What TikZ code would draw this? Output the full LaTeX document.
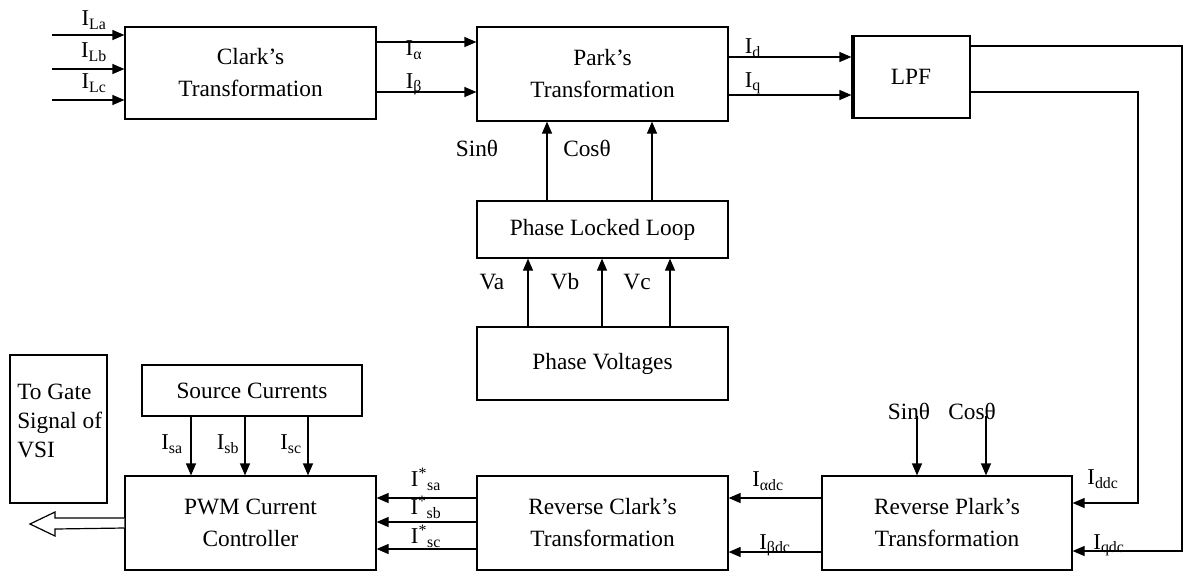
\documentclass[tikz,border=0pt]{standalone}
\usepackage{fontspec}
\setmainfont{Liberation Serif}
\usetikzlibrary{arrows.meta,calc}
\newcommand\Ist[1]{I\textsuperscript{*}\textsubscript{#1}}
\begin{document}
\begin{tikzpicture}[x=0.75pt,y=-0.75pt,
 box/.style={draw,line width=0.9pt,align=center,inner sep=0pt,font=\fontsize{17.5}{24}\selectfont},
 arr/.style={line width=0.9pt,-{Triangle[length=9pt,width=7.5pt]}},
 ln/.style={line width=0.9pt},
 lbl/.style={inner sep=0pt,font=\fontsize{17}{20}\selectfont},
 slbl/.style={inner sep=0pt,text height=8pt,text depth=1pt,font=\fontsize{17}{20}\selectfont},
 big/.style={inner sep=0pt,font=\fontsize{17.5}{21}\selectfont}]
\useasboundingbox (0,0) rectangle (1184,572);

% boxes
\node[box,minimum width=188.25pt,minimum height=69pt] (clark) at (250.5,73) {Clark’s\\Transformation};
\node[box,minimum width=188.25pt,minimum height=70.5pt] (park) at (602.5,74) {Park’s\\Transformation};
\node[box,minimum width=88.5pt,minimum height=61.5pt] (lpf) at (911,77) {LPF};
\node[box,minimum width=188.25pt,minimum height=42.75pt] (pll) at (602.5,229.5) {Phase Locked Loop};
\node[box,minimum width=188.25pt,minimum height=54.75pt] (pv) at (602.5,363.5) {Phase Voltages};
\node[box,minimum width=72.75pt,minimum height=111pt] (gate) at (58.5,429) {};
\node[inner sep=0pt,anchor=west,align=left,font=\fontsize{17.5}{22}\selectfont] (gatetxt) at (17,421) {To Gate\\Signal of\\VSI};
\node[box,minimum width=165pt,minimum height=38.25pt] (src) at (252,390.5) {Source Currents};
\node[box,minimum width=188.25pt,minimum height=70.5pt] (pwm) at (250.5,523) {PWM Current\\Controller};
\node[box,minimum width=188.25pt,minimum height=70.5pt] (rclark) at (602.5,523) {Reverse Clark’s\\Transformation};
\node[box,minimum width=187.5pt,minimum height=70.5pt] (rpark) at (947,523) {Reverse Plark’s\\Transformation};
\draw[ln] ([xshift=2pt]lpf.north west) -- ([xshift=2pt]lpf.south west);

% input arrows to Clark
\coordinate (ila) at (52,35);
\coordinate (ilb) at (52,69);
\coordinate (ilc) at (52,100);
\draw[arr] (ila) -- (ila -| clark.west);
\draw[arr] (ilb) -- (ilb -| clark.west);
\draw[arr] (ilc) -- (ilc -| clark.west);
\node[lbl] (lila) at (94,20) {I\textsubscript{La}};
\node[lbl] (lilb) at (94,52) {I\textsubscript{Lb}};
\node[lbl] (lilc) at (94,83) {I\textsubscript{Lc}};

% Clark -> Park
\draw[arr] (clark.east |- 0,42) -- (park.west |- 0,42);
\draw[arr] (clark.east |- 0,92) -- (park.west |- 0,92);
\node[lbl] (lia) at (414,50) {I\textsubscript{α}};
\node[lbl] (lib) at (414,84) {I\textsubscript{β}};

% Park -> LPF
\draw[arr] (park.east |- 0,57) -- (lpf.west |- 0,57);
\draw[arr] (park.east |- 0,95) -- (lpf.west |- 0,95);
\node[lbl] (lid) at (753,48) {I\textsubscript{d}};
\node[lbl] (liq) at (753,83) {I\textsubscript{q}};

% PLL -> Park
\draw[arr] (pll.north -| 547,0) -- (park.south -| 547,0);
\draw[arr] (pll.north -| 652,0) -- (park.south -| 652,0);
\node[big] (lsin1) at (477,148) {Sinθ};
\node[big] (lcos1) at (587,148) {Cosθ};

% Phase voltages -> PLL
\draw[arr] (pv.north -| 528,0) -- (pll.south -| 528,0);
\draw[arr] (pv.north -| 602,0) -- (pll.south -| 602,0);
\draw[arr] (pv.north -| 670,0) -- (pll.south -| 670,0);
\node[big] (lva) at (492,282) {Va};
\node[big] (lvb) at (565,282) {Vb};
\node[big] (lvc) at (637,282) {Vc};

% Source currents -> PWM
\draw[arr] (src.south -| 191,0) -- (pwm.north -| 191,0);
\draw[arr] (src.south -| 245,0) -- (pwm.north -| 245,0);
\draw[arr] (src.south -| 308,0) -- (pwm.north -| 308,0);
\node[lbl] (lisa) at (172,444) {I\textsubscript{sa}};
\node[lbl] (lisb) at (228,444) {I\textsubscript{sb}};
\node[lbl] (lisc) at (291,444) {I\textsubscript{sc}};

% Reverse Clark -> PWM
\draw[arr] (rclark.west |- 0,498) -- (pwm.east |- 0,498);
\draw[arr] (rclark.west |- 0,522) -- (pwm.east |- 0,522);
\draw[arr] (rclark.west |- 0,549) -- (pwm.east |- 0,549);
\node[slbl] (lsa) at (426,482) {\Ist{sa}};
\node[slbl] (lsb) at (426,510) {\Ist{sb}};
\node[slbl] (lsc) at (426,539) {\Ist{sc}};

% Reverse Park -> Reverse Clark
\draw[arr] (rpark.west |- 0,498) -- (rclark.east |- 0,498);
\draw[arr] (rpark.west |- 0,552) -- (rclark.east |- 0,552);
\node[lbl] (ladc) at (768,481) {I\textsubscript{αdc}};
\node[lbl] (lbdc) at (775,545) {I\textsubscript{βdc}};

% sin cos into Reverse Park
\node[big] (lsin2) at (909,411) {Sinθ};
\node[big] (lcos2) at (972,411) {Cosθ};
\draw[arr] (917,416) -- (rpark.north -| 917,0);
\draw[arr] (986,416) -- (rpark.north -| 986,0);

% LPF feedback to Reverse Park
\coordinate (c1) at (1138,92);
\coordinate (c2) at (1138,503);
\draw[arr] (lpf.east |- c1) -- (c1) -- (c2) -- (rpark.east |- c2);
\coordinate (c3) at (1182,46);
\coordinate (c4) at (1182,551);
\draw[arr] (lpf.east |- c3) -- (c3) -- (c4) -- (rpark.east |- c4);
\node[lbl] (lddc) at (1103,479) {I\textsubscript{ddc}};
\node[lbl] (lqdc) at (1109,545) {I\textsubscript{qdc}};

% hollow output arrow
\coordinate (vsiout) at (30,524);
\draw[ln,fill=white] ($(pwm.west)+(0,-5)$) -- ($(vsiout)+(25,-6)$) -- ($(vsiout)+(25,-12)$) -- (vsiout) -- ($(vsiout)+(25,12)$) -- ($(vsiout)+(25,5)$) -- ($(pwm.west)+(0,5)$);
\end{tikzpicture}
\end{document}
